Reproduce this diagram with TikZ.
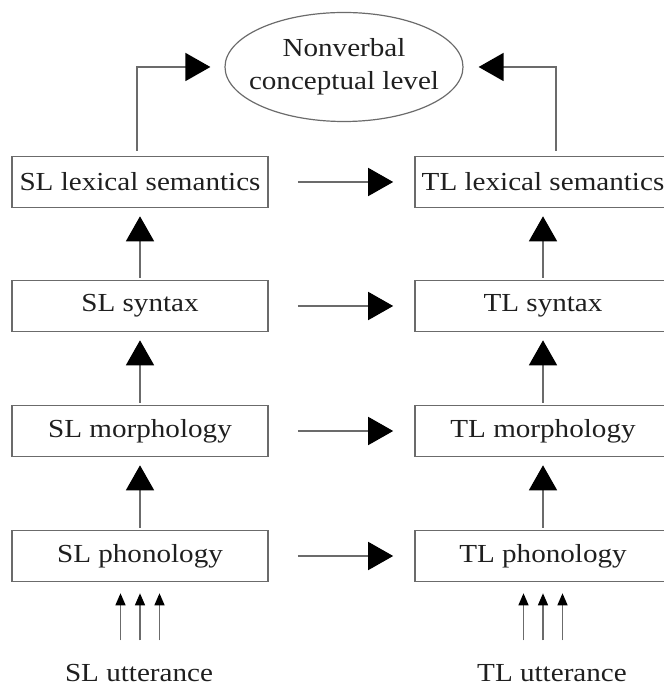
\documentclass[tikz,border=0pt]{standalone}
\usepackage{fontspec}
\setmainfont{Liberation Serif}[FakeStretch=1.12]
\usepackage{tikz}
\usetikzlibrary{arrows.meta,shapes.geometric}
\definecolor{linegray}{gray}{0.42}
\definecolor{inkgray}{gray}{0.12}

\begin{document}
\begin{tikzpicture}[x=0.5pt, y=0.5pt,
	lvl/.style = {draw=linegray, line width=.8pt, minimum width=128pt, minimum height=25.5pt, inner sep=0pt, text=inkgray, font=\fontsize{13pt}{16.5pt}\selectfont},
	flow/.style = {draw=linegray, line width=.8pt, -{Triangle[length=12.5pt,width=14pt,color=black]}},
	feed/.style = {draw=linegray, line width=.7pt, -{Triangle[length=6pt,width=5pt,color=black]}}]
	\useasboundingbox (0,0) rectangle (664,686);
	% top level
	\node[ellipse, draw=linegray, line width=.6pt, minimum width=119pt, minimum height=54.5pt, inner xsep=-6pt, inner ysep=0pt, align=center, text=inkgray, font=\fontsize{13pt}{16.5pt}\selectfont] (concept) at (344,619) {Nonverbal\\conceptual level};
	% source side
	\node[lvl] (slex) at (140,504) {SL lexical semantics};
	\node[lvl] (ssyn) at (140,380) {SL syntax};
	\node[lvl] (smor) at (140,255) {SL morphology};
	\node[lvl] (spho) at (140,130) {SL phonology};
	% target side
	\node[lvl] (tlex) at (543,504) {TL lexical semantics};
	\node[lvl] (tsyn) at (543,380) {TL syntax};
	\node[lvl] (tmor) at (543,255) {TL morphology};
	\node[lvl] (tpho) at (543,130) {TL phonology};
	\node[anchor=base, text=inkgray, font=\fontsize{13pt}{16.5pt}\selectfont] (sutt) at (139,4) {SL utterance};
	\node[anchor=base, text=inkgray, font=\fontsize{13pt}{16.5pt}\selectfont] (tutt) at (552,4) {TL utterance};
	% up to the conceptual level
	\draw[flow] ([xshift=-1.5pt,yshift=2.5pt]slex.north) |- ([xshift=-7pt]concept.west);
	\draw[flow] ([xshift=6.5pt,yshift=2.5pt]tlex.north) |- ([xshift=7.5pt]concept.east);
	% bottom-up
	\foreach \lo/\hi in {spho/smor, smor/ssyn, ssyn/slex, tpho/tmor, tmor/tsyn, tsyn/tlex}
		\draw[flow] ([yshift=1pt]\lo.north) -- ([yshift=-4pt]\hi.south);
	% source to target
	\foreach \s/\t in {slex/tlex, ssyn/tsyn, smor/tmor, spho/tpho}
		\draw[flow] ([xshift=14.5pt]\s.east) -- ([xshift=-10.5pt]\t.west);
	% input
	\foreach \b in {spho, tpho}
		\foreach \dx in {-9.75,0,9.75}
			\draw[feed] ([xshift=\dx pt,yshift=-29pt]\b.south) -- ([xshift=\dx pt,yshift=-5.5pt]\b.south);
\end{tikzpicture}
\end{document}
